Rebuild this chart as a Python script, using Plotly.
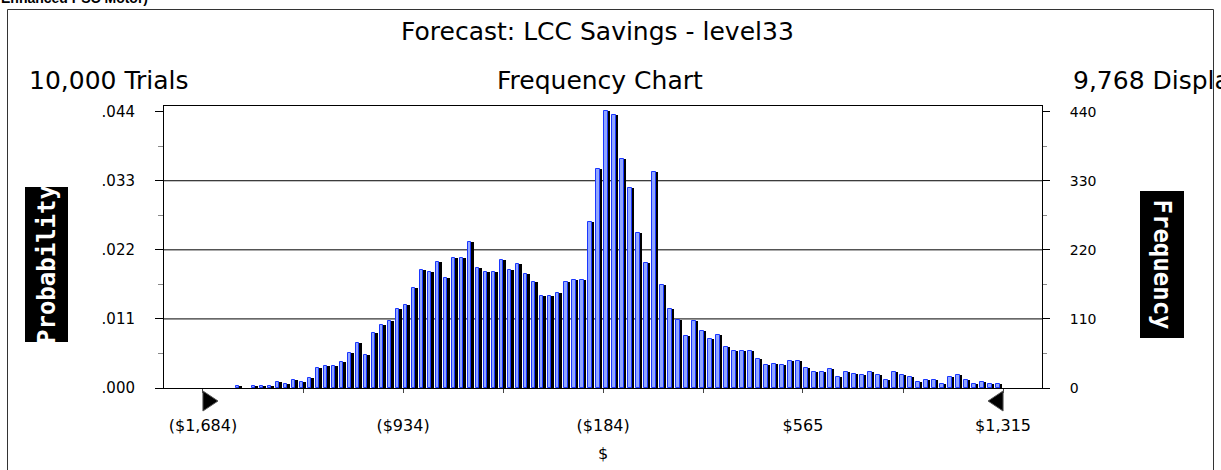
import plotly.graph_objects as go

# ---- forecast data -------------------------------------------------------
TRIALS = 10000
DISPLAYED = 9768
RANGE_MIN = -1684          # left certainty grabber
RANGE_MAX = 1315           # right certainty grabber
N_BINS = 100

# trials per bin, left to right
frequency = [
    0, 0, 0, 0, 3, 0, 3, 3, 3, 9,
    6, 12, 9, 16, 32, 35, 35, 42, 55, 72,
    52, 87, 100, 106, 126, 132, 159, 188, 184, 201,
    175, 207, 207, 233, 191, 184, 184, 204, 188, 197,
    181, 168, 146, 146, 152, 168, 172, 172, 265, 348,
    441, 435, 364, 318, 247, 199, 344, 164, 125, 109,
    83, 106, 91, 78, 85, 66, 59, 59, 59, 46,
    36, 39, 36, 43, 43, 32, 26, 26, 30, 17,
    26, 23, 20, 26, 20, 13, 26, 20, 17, 10,
    13, 13, 7, 17, 20, 13, 7, 10, 7, 7,
]

x_tick_values = [-1684, -934, -184, 565, 1315]
x_tick_labels = ["($1,684)", "($934)", "($184)", "$565", "$1,315"]

prob_ticks = [0.0, 0.011, 0.022, 0.033, 0.044]
prob_labels = [".000", ".011", ".022", ".033", ".044"]
freq_ticks = [0, 110, 220, 330, 440]
freq_labels = ["0", "110", "220", "330", "440"]

# ---- page geometry -------------------------------------------------------
W, H = 1221, 470
L, R, T, B = 164, 179, 106, 82
PW, PH = W - L - R, H - T - B
X_RANGE = [-1830, 1461]
PROB_TOP = 0.0449
DOLLAR_PER_PX = (X_RANGE[1] - X_RANGE[0]) / PW


def px_x(px):
    return (px - L) / PW


def px_y(py):
    return (H - B - py) / PH


bin_w = (RANGE_MAX - RANGE_MIN) / N_BINS
centers = [RANGE_MIN + bin_w * (i + 0.5) for i in range(N_BINS)]
# empty bins draw nothing
probability = [f / TRIALS if f > 0 else None for f in frequency]

FONT = "DejaVu Sans"

fig = go.Figure()

# dark side of each bar
fig.add_trace(go.Bar(
    x=centers, y=probability,
    width=4.0 * DOLLAR_PER_PX, offset=-1.0 * DOLLAR_PER_PX,
    marker=dict(color="#000000", line=dict(width=0)),
    hoverinfo="skip", showlegend=False,
))
# blue front face
fig.add_trace(go.Bar(
    x=centers, y=probability,
    width=3.2 * DOLLAR_PER_PX, offset=-2.7 * DOLLAR_PER_PX,
    marker=dict(color="#90a6ff", line=dict(color="#1a36ff", width=1)),
    hoverinfo="skip", showlegend=False,
))
# frequency scale on the right
fig.add_trace(go.Scatter(
    x=centers, y=frequency, yaxis="y2", mode="markers",
    marker=dict(opacity=0), hoverinfo="skip", showlegend=False,
))

shapes = []
# horizontal grid lines
for v in prob_ticks[1:-1]:
    shapes.append(dict(type="line", xref="paper", yref="y", x0=0, x1=1, y0=v, y1=v,
                       line=dict(color="black", width=1), layer="below"))
# outer frame
shapes.append(dict(type="rect", xref="paper", yref="paper",
                   x0=px_x(7.5), x1=px_x(1213.5), y0=px_y(480), y1=px_y(9.5),
                   line=dict(color="#333333", width=1), layer="below"))

# certainty grabbers under the axis: flat side on the range end, pointing inward
tri_w = 15 * DOLLAR_PER_PX
tri_top, tri_bot, tri_mid = px_y(391), px_y(411), px_y(401)
for edge, sign in ((RANGE_MIN, 1), (RANGE_MAX, -1)):
    tip = edge + sign * tri_w
    shapes.append(dict(
        type="path", xref="x", yref="paper",
        path=f"M {edge},{tri_top} L {tip},{tri_mid} L {edge},{tri_bot} Z",
        fillcolor="black", line=dict(color="#555555", width=1),
    ))

# label boxes on both sides
shapes.append(dict(type="rect", xref="paper", yref="paper",
                   x0=px_x(25), x1=px_x(68), y0=px_y(342), y1=px_y(187),
                   fillcolor="black", line=dict(width=0)))
shapes.append(dict(type="rect", xref="paper", yref="paper",
                   x0=px_x(1140), x1=px_x(1184), y0=px_y(338), y1=px_y(191),
                   fillcolor="black", line=dict(width=0)))

# unlabelled x ticks midway between the labelled ones
x_all_ticks = []
x_all_text = []
for i, v in enumerate(x_tick_values):
    x_all_ticks.append(v)
    x_all_text.append(x_tick_labels[i])
    if i < len(x_tick_values) - 1:
        x_all_ticks.append((v + x_tick_values[i + 1]) / 2)
        x_all_text.append("")

prob_minor = [(a + b) / 2 for a, b in zip(prob_ticks[:-1], prob_ticks[1:])]
freq_minor = [(a + b) / 2 for a, b in zip(freq_ticks[:-1], freq_ticks[1:])]

annotations = [
    dict(text="<b>Enhanced PSC Motor)</b>", x=px_x(-1), y=px_y(8), xanchor="left",
         yanchor="bottom", font=dict(family="Liberation Sans", size=14, color="black")),
    dict(text="Forecast: LCC Savings - level33", x=px_x(597), y=px_y(32),
         xanchor="center", yanchor="middle", font=dict(family=FONT, size=25, color="black")),
    dict(text=f"{TRIALS:,} Trials", x=px_x(27), y=px_y(80), xanchor="left",
         yanchor="middle", font=dict(family=FONT, size=25, color="black")),
    dict(text="Frequency Chart", x=px_x(600), y=px_y(80), xanchor="center",
         yanchor="middle", font=dict(family=FONT, size=25, color="black")),
    dict(text=f"{DISPLAYED:,} Displayed", x=px_x(1071), y=px_y(80), xanchor="left",
         yanchor="middle", font=dict(family=FONT, size=25, color="black")),
    dict(text="<b>Probability</b>", x=px_x(46.5), y=px_y(264.5), textangle=-90,
         xanchor="center", yanchor="middle",
         font=dict(family="DejaVu Sans Mono", size=24, color="white")),
    dict(text="<b>Frequency</b>", x=px_x(1162), y=px_y(264.5), textangle=90,
         xanchor="center", yanchor="middle",
         font=dict(family="DejaVu Sans Mono", size=24, color="white")),
    dict(text="$", x=0.5, y=px_y(453), xanchor="center", yanchor="middle",
         font=dict(family=FONT, size=16, color="black")),
]
for a in annotations:
    a.update(xref="paper", yref="paper", showarrow=False)

fig.update_layout(
    width=W, height=H, autosize=False,
    margin=dict(l=L, r=R, t=T, b=B, pad=0),
    paper_bgcolor="white", plot_bgcolor="white",
    barmode="overlay", bargap=0,
    shapes=shapes, annotations=annotations,
    xaxis=dict(
        range=X_RANGE, showgrid=False, zeroline=False,
        showline=True, linecolor="black", linewidth=1, mirror=True,
        tickmode="array", tickvals=x_all_ticks, ticktext=x_all_text,
        ticks="outside", ticklen=4, tickcolor="#444444", ticklabelstandoff=19,
        tickfont=dict(family=FONT, size=16, color="black"),
    ),
    yaxis=dict(
        range=[0, PROB_TOP], showgrid=False, zeroline=False,
        showline=True, linecolor="black", linewidth=1,
        tickmode="array", tickvals=prob_ticks, ticktext=prob_labels,
        ticks="outside", ticklen=8, tickcolor="black", ticklabelstandoff=17,
        tickfont=dict(family=FONT, size=15, color="black"),
        minor=dict(tickvals=prob_minor, ticks="outside", ticklen=5, tickcolor="#888888"),
    ),
    yaxis2=dict(
        range=[0, PROB_TOP * TRIALS], overlaying="y", side="right",
        showgrid=False, zeroline=False,
        showline=True, linecolor="black", linewidth=1,
        tickmode="array", tickvals=freq_ticks, ticktext=freq_labels,
        ticks="outside", ticklen=7, tickcolor="black", ticklabelstandoff=17,
        tickfont=dict(family=FONT, size=14, color="black"),
        minor=dict(tickvals=freq_minor, ticks="outside", ticklen=4, tickcolor="#888888"),
    ),
)

fig.write_html("out.html")
